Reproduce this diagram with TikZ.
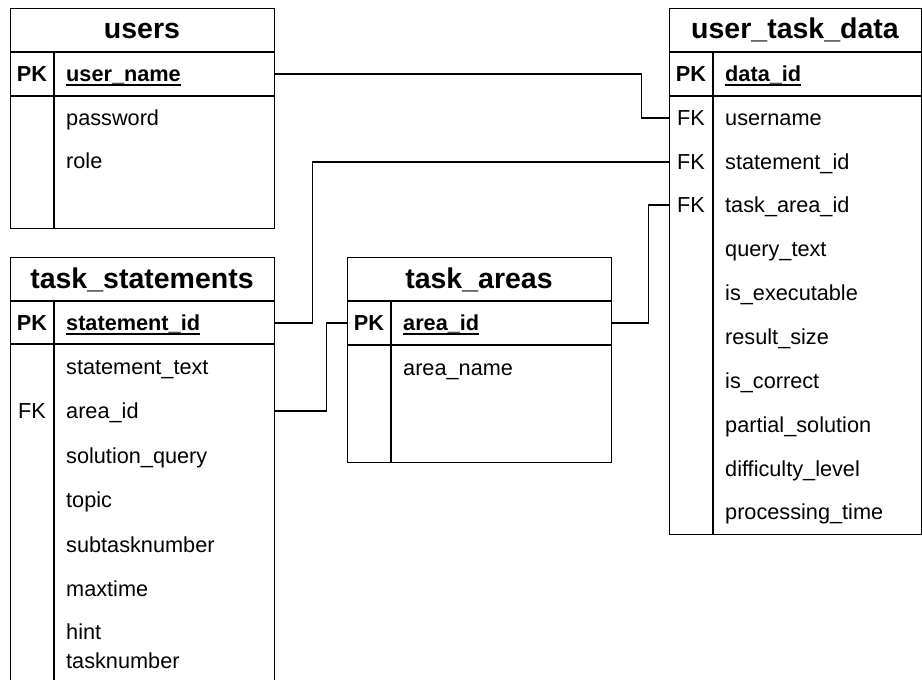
\documentclass[tikz,border=0pt]{standalone}
\usepackage{fontspec}
\setmainfont{Liberation Sans}
\usetikzlibrary{positioning}

% underlined key column name
\newcommand\keyfield[1]{\setbox0\hbox{#1}\rlap{\rule[-4.3pt]{\wd0}{1.6pt}}\box0}

\tikzset{
  tbl/.style={draw, line width=1.1pt, anchor=north west, inner sep=0pt},
  ttl/.style={font=\fontsize{28.5}{30}\selectfont\bfseries, text height=21pt, text depth=5pt, inner sep=0pt},
  fld/.style={font=\fontsize{21.7}{24}\selectfont, anchor=west, text height=17pt, text depth=2pt, inner sep=0pt},
  pkfld/.style={fld, font=\fontsize{21.7}{24}\selectfont\bfseries},
  keytag/.style={font=\fontsize{21.7}{24}\selectfont, text height=17pt, text depth=2pt, inner sep=0pt},
  pktag/.style={keytag, font=\fontsize{21.7}{24}\selectfont\bfseries},
  sep/.style={line width=1.1pt},
  rel/.style={line width=1.1pt},
}

\begin{document}
\begin{tikzpicture}[x=1pt, y=-1pt]
\useasboundingbox (0,0) rectangle (922,680);

% users
\node[tbl, minimum width=264pt, minimum height=220pt] (users) at (10,8) {};
\draw[sep] (10,52) -- (274,52);
\draw[sep] (10,96) -- (274,96);
\draw[sep] (54,52) -- (54,228);
\node[ttl] (users-t) at (142,30) {users};
\node[pktag] (u-pk) at (32,74) {PK};
\node[pkfld] (u-name) at (66,74) {\keyfield{user\_name}};
\node[fld] (u-pass) at (66,118) {password};
\node[fld] (u-role) at (66,161) {role};

% task_statements (runs past the lower edge)
\node[tbl, minimum width=264pt, minimum height=440pt] (stmts) at (10,257) {};
\draw[sep] (10,301) -- (274,301);
\draw[sep] (10,344) -- (274,344);
\draw[sep] (54,301) -- (54,697);
\node[ttl] (stmts-t) at (142,280) {task\_statements};
\node[pktag] (s-pk) at (32,323) {PK};
\node[pkfld] (s-id) at (66,323) {\keyfield{statement\_id}};
\node[fld] (s-text) at (66,367) {statement\_text};
\node[keytag] (s-fk) at (32,411) {FK};
\node[fld] (s-area) at (66,411) {area\_id};
\node[fld] (s-query) at (66,456) {solution\_query};
\node[fld] (s-topic) at (66,500) {topic};
\node[fld] (s-sub) at (66,545) {subtasknumber};
\node[fld] (s-max) at (66,589) {maxtime};
\node[fld] (s-hint) at (66,632) {hint};
\node[fld] (s-num) at (66,661) {tasknumber};

% task_areas
\node[tbl, minimum width=264pt, minimum height=205pt] (areas) at (347,257) {};
\draw[sep] (347,301) -- (611,301);
\draw[sep] (347,345) -- (611,345);
\draw[sep] (391,301) -- (391,462);
\node[ttl] (areas-t) at (479,280) {task\_areas};
\node[pktag] (a-pk) at (369,323) {PK};
\node[pkfld] (a-id) at (403,323) {\keyfield{area\_id}};
\node[fld] (a-name) at (403,368) {area\_name};

% user_task_data
\node[tbl, minimum width=251.5pt, minimum height=526pt] (data) at (669,8) {};
\draw[sep] (669,52) -- (920.5,52);
\draw[sep] (669,96) -- (920.5,96);
\draw[sep] (713,52) -- (713,534);
\node[ttl] (data-t) at (795,30) {user\_task\_data};
\node[pktag] (d-pk) at (691,74) {PK};
\node[pkfld] (d-id) at (725,74) {\keyfield{data\_id}};
\node[keytag] (d-fk1) at (691,118) {FK};
\node[fld] (d-user) at (725,118) {username};
\node[keytag] (d-fk2) at (691,162) {FK};
\node[fld] (d-stmt) at (725,162) {statement\_id};
\node[keytag] (d-fk3) at (691,205) {FK};
\node[fld] (d-area) at (725,205) {task\_area\_id};
\node[fld] (d-query) at (725,249) {query\_text};
\node[fld] (d-exec) at (725,293) {is\_executable};
\node[fld] (d-size) at (725,337) {result\_size};
\node[fld] (d-corr) at (725,381) {is\_correct};
\node[fld] (d-part) at (725,425) {partial\_solution};
\node[fld] (d-diff) at (725,469) {difficulty\_level};
\node[fld] (d-time) at (725,512) {processing\_time};

% relations
\draw[rel] (users.east |- u-pk) -- ++(366,0) |- (data.west |- d-fk1);
\draw[rel] (stmts.east |- s-pk) -- ++(37,0) |- (data.west |- d-fk2);
\draw[rel] (stmts.east |- s-fk) -- ++(51,0) |- (areas.west |- a-pk);
\draw[rel] (areas.east |- a-pk) -- ++(36,0) |- (data.west |- d-fk3);
\end{tikzpicture}
\end{document}
